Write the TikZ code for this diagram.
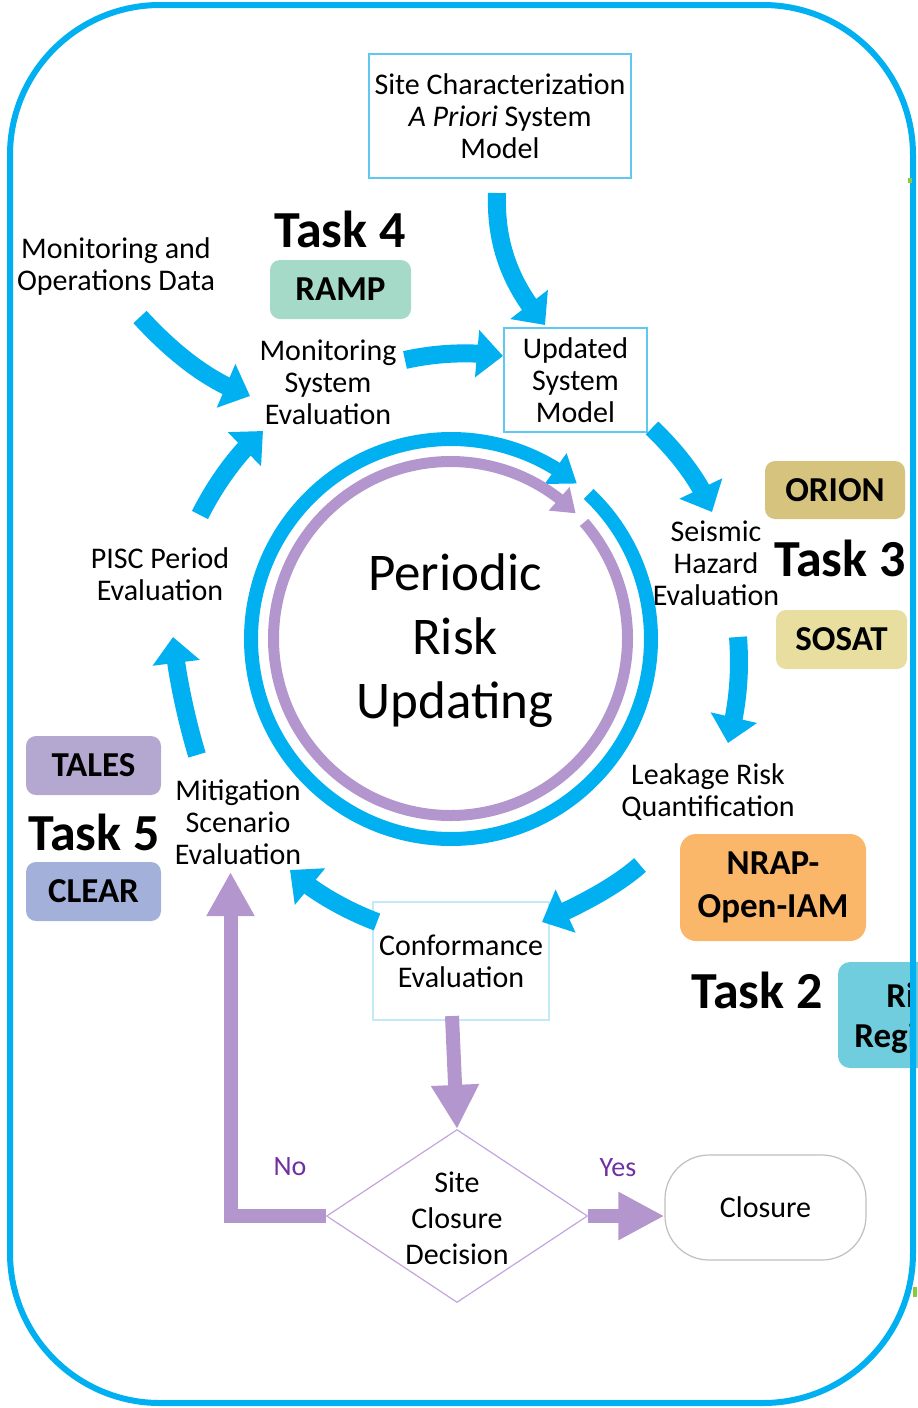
\documentclass[tikz,border=0pt]{standalone}
\usepackage{fontspec}
\setmainfont{Carlito}
\usetikzlibrary{arrows.meta,bending,shapes.geometric}
\definecolor{cy}{RGB}{0,176,240}
\definecolor{pu}{RGB}{179,150,205}
\definecolor{boxcy}{RGB}{95,200,240}
\definecolor{boxlt}{RGB}{195,232,246}
\definecolor{ramp}{RGB}{166,218,200}
\definecolor{orion}{RGB}{214,195,125}
\definecolor{sosat}{RGB}{231,222,160}
\definecolor{nrap}{RGB}{250,182,105}
\definecolor{riskc}{RGB}{112,205,222}
\definecolor{tales}{RGB}{180,168,208}
\definecolor{clear}{RGB}{163,177,218}
\definecolor{yn}{RGB}{112,48,160}
\definecolor{dia}{RGB}{195,165,222}
\definecolor{grn}{RGB}{140,200,60}
\begin{document}
\begin{tikzpicture}[x=0.5pt,y=-0.5pt,
  lbl/.style={font=\fontsize{15}{16}\selectfont, align=center, inner sep=0pt},
  tasklbl/.style={font=\fontsize{26}{30}\selectfont\bfseries, inner sep=0pt},
  toolbox/.style={rounded corners=5pt, font=\fontsize{17.5}{21.5}\selectfont\bfseries, align=center, inner sep=0pt},
  sysbox/.style={draw=boxcy, line width=0.6pt, align=center, inner sep=0pt, font=\fontsize{15}{16}\selectfont},
  bigarrow/.style={cy, line width=9pt, -{Triangle[width=23pt,length=13pt]}},
  parrow/.style={pu, line width=7pt, -{Triangle[width=22.5pt,length=22pt]}},
  ynlbl/.style={text=yn, font=\fontsize{14}{16}\selectfont, inner sep=0pt}
]
\useasboundingbox (0,0) rectangle (917,1408);

% risk box partially visible (behind frame)
\path[fill=riskc, rounded corners=6pt] (838,962) rectangle (980,1068);
\node[anchor=west, font=\fontsize{17.5}{21.5}\selectfont\bfseries, inner sep=0pt] (riskA) at (886,995) {Ri};
\node[anchor=west, font=\fontsize{17.5}{21.5}\selectfont\bfseries, inner sep=0pt] (riskB) at (854,1038) {Regi};

% frame
\draw[cy, line width=3pt, rounded corners=75pt] (10,5) rectangle (913,1403);
\fill[grn] (908,178) rectangle (912,183);
\fill[grn] (913,1287) rectangle (917,1297);

% boxes
\node[sysbox, minimum width=131pt, minimum height=62pt] (sitechar) at (500,116)
  {Site Characterization\\\textit{A Priori} System\\Model};
\node[sysbox, minimum width=71.5pt, minimum height=52pt] (upd) at (575.5,380)
  {Updated\\System\\Model};
\node[sysbox, draw=boxlt, line width=1pt, minimum width=88pt, minimum height=59pt] (conf) at (461,961) {};
\node[lbl] (conftext) at (461,961) {Conformance\\Evaluation};

\node[toolbox, fill=ramp, minimum width=70.5pt, minimum height=29.5pt] (rampb) at (340.5,289.5) {RAMP};
\node[toolbox, fill=orion, minimum width=70pt, minimum height=29pt] (orionb) at (835,490) {ORION};
\node[toolbox, fill=sosat, minimum width=65.5pt, minimum height=29.5pt] (sosatb) at (841.5,639.5) {SOSAT};
\node[toolbox, fill=nrap, minimum width=93pt, minimum height=53.5pt, rounded corners=8pt] (nrapb) at (773,887.5) {NRAP-\\Open-IAM};
\node[toolbox, fill=tales, minimum width=67.5pt, minimum height=29.5pt] (talesb) at (93.5,765.5) {TALES};
\node[toolbox, fill=clear, minimum width=67.5pt, minimum height=29.5pt] (clearb) at (93.5,891.5) {CLEAR};

% task labels
\node[tasklbl] (t4) at (340,229) {Task 4};
\node[tasklbl] (t3) at (840,558) {Task 3};
\node[tasklbl] (t2) at (757,990) {Task 2};
\node[tasklbl] (t5) at (94,832) {Task 5};

% text labels
\node[lbl] (mondata) at (116,266) {Monitoring and\\Operations Data};
\node[lbl] (moneval) at (328,382) {Monitoring\\System\\Evaluation};
\node[lbl] (seis) at (716,563) {Seismic\\Hazard\\Evaluation};
\node[lbl] (leak) at (708,792) {Leakage Risk\\Quantification};
\node[lbl] (pisc) at (160,574.5) {PISC Period\\Evaluation};
\node[lbl] (mit) at (238,822) {Mitigation\\Scenario\\Evaluation};
\node[font=\fontsize{26.5}{32}\selectfont, align=center, inner sep=0pt] (pru) at (455,641) {Periodic\\Risk\\Updating};

% rings
\coordinate (rc) at (451,639);
\coordinate (pc) at (450.5,638.5);
\draw[cy, line width=7pt, -{Triangle[width=18pt,length=13pt]}] (rc) ++(46.5:100pt) arc[start angle=46.5, end angle=-309, radius=100pt];
\draw[pu, line width=5.5pt, -{Triangle[width=15pt,length=11pt]}] (pc) ++(41:88.5pt) arc[start angle=41, end angle=-315, radius=88.5pt];

% cyan block arrows
\coordinate (a1s) at (497,193); \coordinate (a1e) at (545,325);
\coordinate (a2s) at (405,360); \coordinate (a2e) at (503,356);
\coordinate (a3s) at (652,428); \coordinate (a3e) at (712,512);
\coordinate (a4s) at (738,637); \coordinate (a4e) at (728,743);
\coordinate (a5s) at (640,865); \coordinate (a5e) at (542,922);
\coordinate (a6s) at (377,922); \coordinate (a6e) at (290,870);
\coordinate (a7s) at (197,755); \coordinate (a7e) at (173,637);
\coordinate (a8s) at (200,515); \coordinate (a8e) at (263,431);
\coordinate (a9s) at (140,317); \coordinate (a9e) at (250,396);
\draw[bigarrow] (a1s) .. controls (495,250) and (515,290) .. (a1e);
\draw[bigarrow] (a2s) .. controls (440,352) and (475,352) .. (a2e);
\draw[bigarrow] (a3s) .. controls (675,450) and (700,480) .. (a3e);
\draw[bigarrow] (a4s) .. controls (741,675) and (737,710) .. (a4e);
\draw[bigarrow] (a5s) .. controls (615,887) and (580,905) .. (a5e);
\draw[bigarrow] (a6s) .. controls (345,910) and (310,890) .. (a6e);
\draw[bigarrow] (a7s) .. controls (185,715) and (176,670) .. (a7e);
\draw[bigarrow] (a8s) .. controls (215,485) and (238,452) .. (a8e);
\draw[bigarrow] (a9s) .. controls (175,355) and (210,382) .. (a9e);

% decision part
\node[diamond, draw=dia, line width=0.6pt, minimum width=130.5pt, minimum height=86.5pt, inner sep=0pt] (dec) at (457,1216) {};
\node[font=\fontsize{15}{18}\selectfont, align=center, inner sep=0pt] (dectext) at (457,1218) {Site\\Closure\\Decision};
\node[draw=black!25, line width=0.6pt, rounded corners=22pt, minimum width=100.5pt, minimum height=52.5pt, font=\fontsize{15}{16}\selectfont] (closure) at (765.5,1207.5) {Closure};

\coordinate (p1s) at (452,1016);
\coordinate (noc) at (230.5,1216);
\coordinate (noe) at (230.5,872);
\draw[parrow] (p1s) -- (dec.north);
\draw[parrow, -{Triangle[width=22.5pt,length=23pt]}] (dec.east) -- (closure.west |- dec.east);
\draw[parrow, line join=miter] (dec.west) -- (noc) -- (noe);

\node[ynlbl] (nolbl) at (290,1167) {No};
\node[ynlbl] (yeslbl) at (618,1168) {Yes};
\end{tikzpicture}
\end{document}
